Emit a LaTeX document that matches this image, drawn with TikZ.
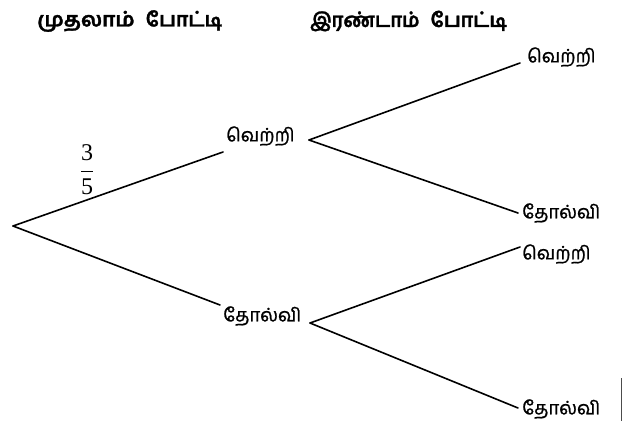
\documentclass[tikz,border=0pt]{standalone}
\usepackage{fontspec}
\setmainfont{Liberation Serif}
\newfontfamily\tamil[Script=Tamil,UprightFeatures={FakeBold=1.2}]{Hind Madurai}
\newfontfamily\tamilbf[Script=Tamil,BoldFeatures={FakeBold=1.5}]{Hind Madurai}
\begin{document}
\begin{tikzpicture}[x=1pt,y=-1pt,
  branch/.style={line width=1.6pt,line cap=round},
  lbl/.style={anchor=west,inner sep=0pt,font=\tamil\fontsize{18.5}{20}\selectfont},
  ttl/.style={anchor=west,inner sep=0pt,font=\tamilbf\bfseries\fontsize{20}{22}\selectfont}]
\useasboundingbox (0,0) rectangle (624,421);
% titles
\node[ttl] (t1) at (37,21) {\scalebox{1.06}[1]{முதலாம்}\hspace{11pt}போட்டி};
\node[ttl] (t2) at (310,21) {\scalebox{0.95}[1]{இரண்டாம்}\hspace{11pt}போட்டி};
% nodes
\coordinate (root) at (13,226);
\node[lbl] (w1) at (226,136) {வெற்றி};
\coordinate (w1in) at (223,152);
\coordinate (w1out) at (309,140);
\node[lbl] (l1) at (223,316) {தோல்வி};
\coordinate (l1in) at (220,305);
\coordinate (l1out) at (310,323);
\node[lbl] (ww) at (527,57) {வெற்றி};
\coordinate (wwin) at (520,63);
\node[lbl] (wl) at (522,213) {தோல்வி};
\coordinate (wlin) at (518,213);
\node[lbl] (lw) at (522,254) {வெற்றி};
\coordinate (lwin) at (520,247);
\node[lbl] (ll) at (522,409) {தோல்வி};
\coordinate (llin) at (518,408);
% connectors
\draw[branch] (root) -- (w1in);
\draw[branch] (root) -- (l1in);
\draw[branch] (w1out) -- (wwin);
\draw[branch] (w1out) -- (wlin);
\draw[branch] (l1out) -- (lwin);
\draw[branch] (l1out) -- (llin);
% probability
\node[inner sep=0pt,font=\fontsize{24}{28}\selectfont] (p) at (87,170) {$\displaystyle\frac{\mbox{3}}{\mbox{5}}$};
% scan edge mark
\draw[line width=1pt,black!70] (621,378) -- (621,421);
\end{tikzpicture}
\end{document}
